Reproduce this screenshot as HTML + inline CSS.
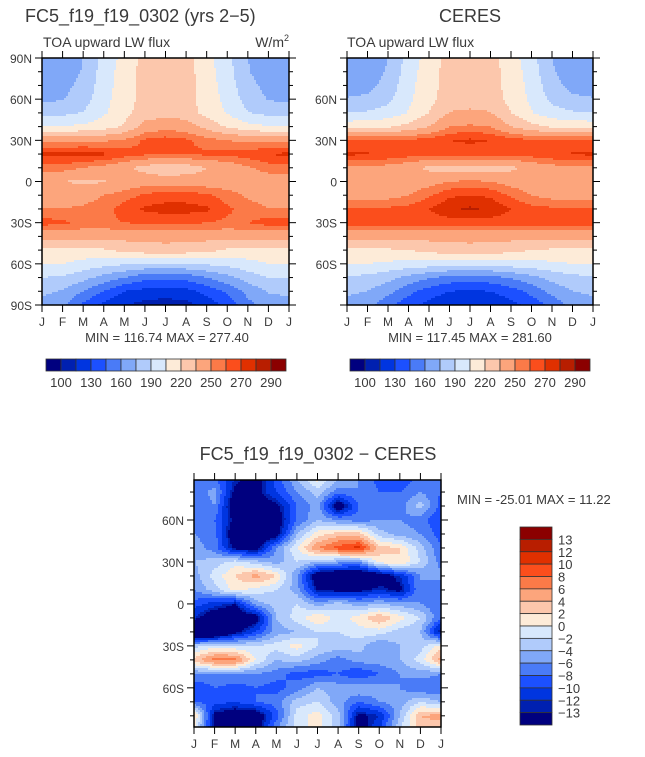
<!DOCTYPE html>
<html><head><meta charset="utf-8"><style>
html,body{margin:0;padding:0;background:#fff;}
svg{display:block;font-family:"Liberation Sans",sans-serif;fill:#3a3a3a;}
</style></head><body>
<svg id="s" width="645" height="757" viewBox="0 0 645 757" xmlns="http://www.w3.org/2000/svg">
<text x="25" y="22" font-size="18">FC5_f19_f19_0302 (yrs 2−5)</text>
<text x="43" y="47" font-size="14">TOA upward LW flux</text>
<text x="289" y="47" font-size="14" text-anchor="end">W/m<tspan font-size="9" dy="-6">2</tspan></text>
<text x="470" y="22" font-size="18" text-anchor="middle">CERES</text>
<text x="347" y="47" font-size="14">TOA upward LW flux</text>
<text x="167" y="342" font-size="13" text-anchor="middle">MIN = 116.74 MAX = 277.40</text>
<text x="470" y="342" font-size="13" text-anchor="middle">MIN = 117.45 MAX = 281.60</text>
<text x="318" y="460" font-size="18" text-anchor="middle">FC5_f19_f19_0302 − CERES</text>
<text x="457" y="504" font-size="13">MIN = -25.01 MAX =  11.22</text>
</svg>
<script>
const months = ["J","F","M","A","M","J","J","A","S","O","N","D","J"];
const lats = [90,80,70,60,50,40,30,20,10,0,-10,-20,-30,-40,-50,-60,-70,-80,-90];
const palette = ["#00007f","#0020b0","#0035e0","#1c50ff","#4a7bf7","#80a8f8","#b0cbfb","#d8e8fc","#fdebd8","#fcc7ac","#fca57c","#fb7a48","#fb4e1c","#e03000","#b81e00","#8b0000"];
const fluxLevels = [100,115,130,145,160,175,190,205,220,235,250,260,270,280,290];
const fluxTickLabels = ["100","130","160","190","220","250","270","290"];
const diffLevels = [-13,-12,-10,-8,-6,-4,-2,0,2,4,6,8,10,12,13];
const diffTickLabels = ["13","12","10","8","6","4","2","0","−2","−4","−6","−8","−10","−12","−13"];
const modelFlux = [
[165,167,175,195,210,225,228,225,210,195,175,166,165],
[166,168,176,197,212,226,228,226,212,196,176,167,166],
[168,170,180,198,213,226,228,226,213,198,180,170,168],
[172,174,183,200,214,225,228,225,214,200,184,174,172],
[184,186,191,203,215,228,230,228,215,204,191,186,184],
[205,206,208,213,222,240,245,242,230,218,210,206,205],
[245,246,247,248,252,262,265,262,255,250,247,246,245],
[273,274,274,272,266,262,262,262,262,263,266,270,273],
[255,255,250,245,238,230,222,226,235,240,248,255,255],
[242,235,232,234,240,244,244,244,242,242,242,242,242],
[245,245,245,250,255,262,265,265,262,255,248,245,245],
[250,250,252,255,265,272,274,274,272,262,255,250,250],
[265,262,258,258,260,262,262,262,260,258,260,265,265],
[240,240,240,240,240,240,240,240,240,240,240,240,240],
[215,215,215,218,225,228,230,228,225,218,215,215,215],
[205,205,200,195,192,190,190,190,192,195,200,205,205],
[190,188,180,170,160,150,148,150,160,170,182,190,190],
[178,174,160,145,130,125,122,125,135,148,165,176,178],
[170,163,142,125,115,110,108,110,120,135,155,168,170]];
const ceresFlux = [
[162,164,175,195,212,225,228,225,212,195,175,164,162],
[164,166,177,198,214,226,228,226,214,198,177,166,164],
[168,170,181,200,215,226,228,226,215,200,181,170,168],
[176,178,186,202,216,226,228,226,216,202,186,178,176],
[190,192,196,206,220,236,238,236,220,206,196,192,190],
[215,215,218,225,235,250,252,250,235,225,218,215,215],
[262,262,262,262,265,270,272,270,265,262,262,262,262],
[272,271,268,265,264,264,264,264,264,265,268,271,272],
[248,248,245,240,232,228,228,228,232,240,245,248,248],
[242,242,242,242,245,250,252,250,245,242,242,242,242],
[245,245,245,250,258,268,270,268,258,250,245,245,245],
[262,262,262,264,270,278,282,278,270,264,262,262,262],
[265,265,265,265,265,265,265,265,265,265,265,265,265],
[240,240,240,240,240,240,240,240,240,240,240,240,240],
[218,218,218,220,225,228,230,228,225,220,218,218,218],
[205,205,202,200,198,196,196,196,198,200,202,205,205],
[188,186,180,170,162,155,153,155,162,170,180,186,188],
[178,175,165,150,138,130,128,130,138,150,165,175,178],
[170,165,150,135,125,118,117,118,125,135,150,165,170]];
const diffValues = [
[-7,-8,-12,-15,-9,-4,1,-4,-6,-9,-10,-7,-8],
[-8,-5,-14,-14,-10,-6,-3,-7,-6,-8,-8,-6,-8],
[-8,-6,-16,-15,-14,-8,-5,-16,-8,-7,-7,-3,-9],
[-6,-8,-14,-18,-15,-8,-4,-6,-7,-6,-6,-7,-10],
[-6,-7,-16,-16,-15,-4,1,3,3,-3,-5,-6,-9],
[-5,-7,-14,-15,-6,0,6,9,11,3,2,-3,-8],
[-4,-3,-1,-3,-5,-2,-4,-5,-6,1,2,-2,-7],
[-5,-1,2,5,2,-6,-16,-18,-18,-16,-12,-6,-5],
[-6,-3,1,-1,-2,-5,-13,-14,-14,-12,-14,-6,-8],
[-9,-11,-13,-5,-3,-2,-5,-3,-5,-4,-5,-6,-8],
[-12,-16,-16,-15,-4,-1,2,-1,1,4,1,-2,-8],
[-20,-20,-14,-10,-5,-4,-2,-2,-1,-1,-3,-4,-14],
[-3,-1,-2,-2,-1,1,-2,-3,-3,-6,-4,-3,1],
[3,7,7,0,-4,-3,-5,-7,-5,-5,-4,-1,5],
[-6,-6,-6,-6,-7,-9,-9,-8,-10,-8,-6,-5,-6],
[-10,-8,-9,-8,-9,-7,-4,-5,-4,-5,-6,-8,-8],
[-8,-9,-10,-8,-7,-3,-2,-5,-8,-6,-5,-2,-4],
[3,-14,-16,-16,-9,-1,1,-3,-14,-12,-4,4,5],
[0,-14,-16,-15,-6,-1,1,-3,-15,-10,-2,3,2]];

const NS="http://www.w3.org/2000/svg";
const svg=document.getElementById('s');
function mk(tag,attrs,parent){const e=document.createElementNS(NS,tag);for(const k in attrs)e.setAttribute(k,attrs[k]);(parent||svg).appendChild(e);return e;}
function levelIndex(v,levels){let i=0;while(i<levels.length&&v>=levels[i])i++;return i;}
function sample(data,fx,fy){const c=Math.min(Math.max(fx,0),12),r=Math.min(Math.max(fy,0),18);
 const c0=Math.min(Math.floor(c),11),r0=Math.min(Math.floor(r),17),tx=c-c0,ty=r-r0;
 const a=data[r0][c0],b=data[r0][c0+1],d=data[r0+1][c0],e=data[r0+1][c0+1];
 return a*(1-tx)*(1-ty)+b*tx*(1-ty)+d*(1-tx)*ty+e*tx*ty;}

function panel(name,data,levels,x0,y0,w,h,latTop,latBot,latTicks){
 const g=mk('g',{});
 
 
 const xs=m=>x0+m/12*w;
 const ys=lat=>y0+(latTop-lat)/(latTop-latBot)*h;
 const step=2;
 function flush(py,s,e,idx){
  const r=mk('rect',{x:x0+s,y:y0+py,width:Math.min(e,w)-s+0.5,height:Math.min(step,h-py)+0.5,fill:palette[idx]},g);
  
  
 }
 for(let py=0;py<h;py+=step){
  const lat=latTop-(py+step/2)/h*(latTop-latBot);
  const fy=(90-lat)/10;
  let runStart=0,runIdx=-1;
  for(let px=0;px<w;px+=step){
   const fx=(px+step/2)/w*12;
   const idx=levelIndex(sample(data,fx,fy),levels);
   if(idx!==runIdx){
    if(runIdx>=0)flush(py,runStart,px,runIdx);
    runStart=px;runIdx=idx;}
  }
  flush(py,runStart,w,runIdx);
 }
 const f=mk('rect',{x:x0,y:y0,width:w,height:h,fill:'none',stroke:'#000','stroke-width':1.5},g);
 
 
 for(let m=0;m<=12;m++){
  const x=xs(m);
  mk('line',{x1:x,x2:x,y1:y0+h,y2:y0+h+7,stroke:'#000'},g);
  mk('line',{x1:x,x2:x,y1:y0,y2:y0-7,stroke:'#000'},g);
  const t=mk('text',{x:x,y:y0+h+21,'font-size':12,'text-anchor':'middle'},g);
  t.textContent=months[m];
  
  
 }
 for(let lat=-90;lat<=90;lat+=10){
  if(lat>latTop+0.1||lat<latBot-0.1)continue;
  const y=ys(lat),major=lat%30===0,len=major?7:4;
  mk('line',{x1:x0,x2:x0-len,y1:y,y2:y,stroke:'#000'},g);
  mk('line',{x1:x0+w,x2:x0+w+len,y1:y,y2:y,stroke:'#000'},g);
 }
 latTicks.forEach(lat=>{
  const t=mk('text',{x:x0-10,y:ys(lat)+5,'font-size':12,'text-anchor':'end'},g);
  t.textContent=lat===0?'0':Math.abs(lat)+(lat>0?'N':'S');
  
  
 });
}
panel('model-flux-panel',modelFlux,fluxLevels,42,58,247,247,90,-90,[90,60,30,0,-30,-60,-90]);
panel('ceres-flux-panel',ceresFlux,fluxLevels,347,58,246,247,90,-90,[60,30,0,-30,-60]);
panel('difference-panel',diffValues,diffLevels,194,480,247,247,88.6,-88,[60,30,0,-30,-60]);

function hbar(name,x0,y0,w,h){
 const g=mk('g',{});
 
 
 const cw=w/palette.length;
 palette.forEach((c,i)=>{const r=mk('rect',{x:x0+i*cw,y:y0,width:cw,height:h,fill:c,stroke:'#333','stroke-width':0.8},g);
  
  });
 fluxTickLabels.forEach((l,k)=>{const t=mk('text',{x:x0+(2*k+1)*cw,y:y0+h+16,'font-size':13,'text-anchor':'middle'},g);
  t.textContent=l;
  
  });
}
hbar('left-colorbar',46,359,240,12);
hbar('right-colorbar',350,359,240,12);
(function(){
 const g=mk('g',{});
 
 
 const x0=520,y0=527,w=32,h=198,ch=h/palette.length;
 for(let i=0;i<palette.length;i++){
  const r=mk('rect',{x:x0,y:y0+i*ch,width:w,height:ch,fill:palette[palette.length-1-i],stroke:'#333','stroke-width':0.8},g);
  
  }
 diffTickLabels.forEach((l,k)=>{const t=mk('text',{x:x0+w+6,y:y0+(k+1)*ch+5,'font-size':13},g);
  t.textContent=l;
  
  });
})();
</script>
</body></html>
